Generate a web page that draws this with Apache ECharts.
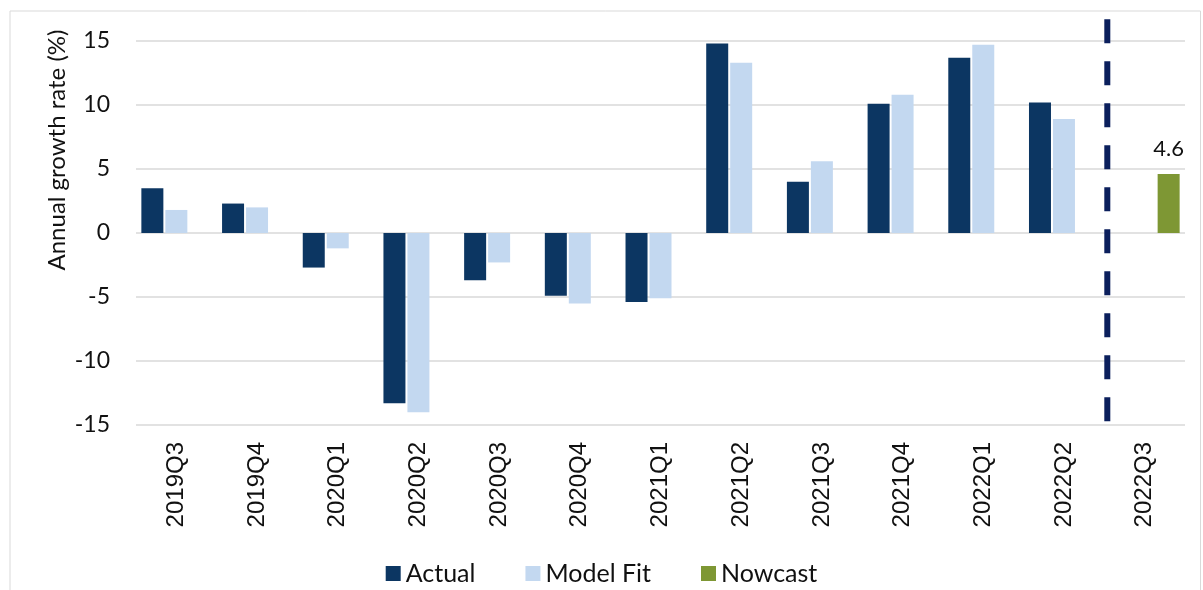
<!DOCTYPE html>
<html>
<head>
<meta charset="utf-8">
<script src="https://cdn.jsdelivr.net/npm/echarts@6/dist/echarts.min.js"></script>
<style>
html,body{margin:0;padding:0;background:#fff;}
#c{width:1203px;height:590px;}
</style>
</head>
<body>
<div id="c"></div>
<script>
const categories = ['2019Q3','2019Q4','2020Q1','2020Q2','2020Q3','2020Q4','2021Q1','2021Q2','2021Q3','2021Q4','2022Q1','2022Q2','2022Q3'];
const actual   = [3.5, 2.3, -2.7, -13.3, -3.7, -4.9, -5.4, 14.8, 4.0, 10.1, 13.7, 10.2, null];
const modelFit = [1.8, 2.0, -1.2, -14.0, -2.3, -5.5, -5.1, 13.3, 5.6, 10.8, 14.7, 8.9, null];
const nowcast  = [null, null, null, null, null, null, null, null, null, null, null, null, 4.6];
const yTicks = { min: -15, max: 15, interval: 5 };
const yAxisTitle = 'Annual growth rate (%)';

const calFont = 'Lato, "Open Sans", sans-serif';
const chart = echarts.init(document.getElementById('c'), null, { renderer: 'canvas' });

const option = {
  animation: false,
  backgroundColor: '#fff',
  textStyle: { fontFamily: calFont },
  grid: { left: 136, right: 18, top: 41, bottom: 165, containLabel: false },
  legend: {
    top: 556,
    left: 'center',
    itemWidth: 15,
    itemHeight: 15,
    itemGap: 50,
    icon: 'rect',
    textStyle: { fontFamily: calFont, fontSize: 25, color: '#111' },
    data: ['Actual', 'Model Fit', 'Nowcast']
  },
  xAxis: {
    type: 'category',
    data: categories,
    axisLine: { show: false },
    axisTick: { show: false },
    axisLabel: {
      rotate: 90,
      margin: 17,
      interval: 0,
      fontFamily: '"Liberation Sans", Arial, sans-serif',
      fontSize: 24,
      color: '#111'
    }
  },
  yAxis: {
    type: 'value',
    min: yTicks.min,
    max: yTicks.max,
    interval: yTicks.interval,
    axisLine: { show: false },
    axisTick: { show: false },
    axisLabel: { fontFamily: calFont, fontSize: 23, color: '#111', margin: 26 },
    splitLine: { lineStyle: { color: '#d9d9d9', width: 1.5 } }
  },
  series: [
    {
      name: 'Actual', type: 'bar', data: actual,
      barWidth: 22, barGap: '9%',
      itemStyle: { color: '#0c3662' }
    },
    {
      name: 'Model Fit', type: 'bar', data: modelFit,
      barWidth: 22, barGap: '9%',
      itemStyle: { color: '#c3d8f0' }
    },
    {
      name: 'Nowcast', type: 'bar', data: nowcast,
      barWidth: 22, barGap: '9%',
      itemStyle: { color: '#7e9734' },
      label: {
        show: true, position: 'top', distance: 14,
        fontFamily: calFont, fontSize: 22, color: '#111',
        formatter: p => p.value == null ? '' : p.value.toFixed(1)
      }
    }
  ]
};
chart.setOption(option);

// separator line between last actual quarter and nowcast
const xa = chart.convertToPixel({ xAxisIndex: 0 }, categories.length - 2);
const xb = chart.convertToPixel({ xAxisIndex: 0 }, categories.length - 1);
const xm = (xa + xb) / 2 + 3;
const yTop = chart.convertToPixel({ yAxisIndex: 0 }, 16.7);
const yBot = chart.convertToPixel({ yAxisIndex: 0 }, -14.7);

chart.setOption({
  graphic: [
    {
      type: 'rect', silent: true, z: -1,
      shape: { x: 10, y: 11, width: 1190.5, height: 600 },
      style: { fill: 'none', stroke: '#d9d9d9', lineWidth: 1 }
    },
    {
      type: 'line', silent: true, z: 10,
      shape: { x1: xm, y1: yTop, x2: xm, y2: yBot },
      style: { stroke: '#0b1f5c', lineWidth: 6, lineDash: [24, 18] }
    },
    {
      type: 'text', silent: true,
      x: 57, y: 150, rotation: Math.PI / 2,
      style: {
        text: yAxisTitle, fontFamily: calFont, fontSize: 24, fill: '#111',
        align: 'center', verticalAlign: 'middle'
      }
    }
  ]
});
</script>
</body>
</html>
